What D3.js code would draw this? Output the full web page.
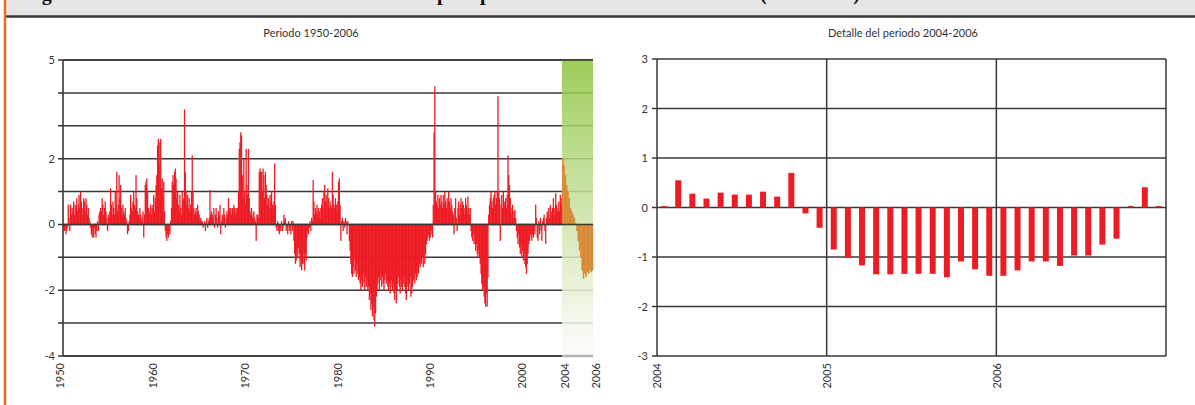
<!DOCTYPE html>
<html>
<head>
<meta charset="utf-8">
<script src="https://cdn.jsdelivr.net/npm/d3@7/dist/d3.min.js"></script>
<style>
  body { margin: 0; background: #fff; }
  svg text { font-family: Lato, "Open Sans", sans-serif; fill: #333; }
</style>
</head>
<body>
<svg id="chart" width="1195" height="405"></svg>
<script>
// monthly index, Jan 1950 .. Dec 2003 (one row per year)
var spi1950to2003 = [
  -0.1,-0.2,-0.1,-0.3,-0.2,-0.1,0.6,0.2,-0.2,0.6,0.3,0.5,      // 1950
  0.4,0.7,0.3,0.6,0.5,0.8,0.4,0.6,0.9,0.5,1.0,0.7,             // 1951
  0.5,0.3,0.8,0.7,0.4,0.8,0.6,0.3,0.5,0.2,0.1,-0.1,            // 1952
  -0.3,-0.4,-0.2,-0.4,-0.1,-0.3,-0.4,-0.2,0.1,-0.2,0.3,0.4,    // 1953
  0.5,0.4,0.8,0.6,0.3,0.5,0.7,0.4,0.2,-0.2,0.3,0.2,            // 1954
  0.4,1.1,0.6,0.3,0.7,0.5,0.3,1.0,0.5,1.6,0.4,0.6,             // 1955
  1.5,0.8,1.2,0.5,0.3,0.6,0.4,0.3,0.5,0.2,0.1,-0.3,            // 1956
  -0.2,0.1,0.3,0.9,0.5,0.4,0.7,1.0,0.6,0.5,1.5,0.8,            // 1957
  0.4,0.3,0.2,0.5,0.3,0.1,0.2,0.4,-0.4,0.3,1.2,1.3,            // 1958
  1.4,1.0,0.5,0.3,0.4,0.6,0.3,0.5,0.6,0.9,0.4,0.8,             // 1959
  1.2,1.5,2.4,2.6,2.5,1.8,2.6,1.1,1.4,0.9,1.3,0.4,             // 1960
  -0.2,-0.4,-0.5,-0.3,-0.4,-0.2,-0.3,0.1,0.5,1.3,1.5,1.2,      // 1961
  1.6,1.7,1.4,0.8,1.0,0.6,0.4,0.9,0.5,0.3,1.0,0.7,             // 1962
  0.8,3.5,1.6,1.0,0.6,0.9,0.5,0.8,0.4,0.6,1.0,2.1,             // 1963
  1.0,0.5,0.3,0.4,0.5,0.3,0.6,0.4,0.3,0.1,0.2,0.1,             // 1964
  0.1,-0.1,0.0,0.1,-0.2,0.1,0.2,-0.1,0.1,0.2,1.05,0.3,         // 1965
  0.4,0.3,0.2,0.5,-0.1,0.3,0.5,0.2,-0.1,0.4,0.3,0.6,           // 1966
  -0.3,0.1,0.3,0.2,0.5,0.3,-0.1,0.2,0.4,0.3,0.8,0.5,           // 1967
  0.4,0.5,0.3,0.5,0.4,0.6,0.5,0.3,0.5,0.4,0.5,1.0,             // 1968
  2.3,2.5,2.8,2.7,1.5,0.8,2.0,1.0,0.6,2.3,1.2,0.9,             // 1969
  2.3,0.8,0.4,0.3,0.5,0.2,0.3,0.4,0.2,0.1,-0.5,0.3,            // 1970
  0.3,0.2,1.6,1.7,1.6,1.6,1.0,1.7,1.5,0.8,1.6,1.2,             // 1971
  0.9,0.6,0.8,0.5,0.9,0.7,1.0,0.6,0.5,0.7,1.85,0.6,            // 1972
  -0.1,-0.2,0.1,-0.2,-0.3,-0.1,-0.2,0.1,-0.2,-0.1,0.3,0.1,     // 1973
  0.2,-0.2,-0.1,-0.3,0.1,-0.2,-0.1,-0.3,0.1,-0.2,0.1,-0.5,     // 1974
  -0.9,-1.2,-1.1,-0.8,-1.0,-0.7,-0.9,-1.3,-1.1,-1.4,-1.2,-0.9, // 1975
  -1.2,-1.4,-0.9,-1.1,-0.4,-0.2,-0.3,-0.1,0.1,-0.2,0.2,0.1,    // 1976
  1.35,0.7,0.3,0.5,0.4,0.6,0.3,0.5,0.4,0.2,0.5,0.6,            // 1977
  0.8,0.5,1.0,1.2,0.7,0.9,0.6,1.1,0.8,0.5,0.7,0.6,             // 1978
  0.5,1.6,0.9,0.6,0.5,0.8,0.6,0.4,0.7,1.3,1.4,0.6,             // 1979
  -0.5,0.1,0.2,-0.2,0.1,-0.1,0.2,0.1,-0.3,0.1,0.0,-0.5,        // 1980
  -0.8,-1.2,-1.5,-1.6,-1.3,-1.5,-1.1,-1.4,-1.6,-1.2,-1.5,-1.7, // 1981
  -1.6,-1.8,-2.0,-1.7,-1.9,-1.5,-1.8,-2.0,-1.6,-1.9,-1.7,-2.0, // 1982
  -1.9,-2.3,-2.1,-2.6,-2.4,-2.8,-2.5,-2.9,-3.1,-2.7,-2.2,-2.0, // 1983
  -1.8,-1.6,-2.0,-1.7,-1.5,-1.9,-1.6,-1.8,-2.0,-1.7,-1.5,-1.8, // 1984
  -1.7,-1.9,-2.0,-1.8,-2.1,-1.9,-1.7,-2.0,-1.8,-2.1,-2.3,-2.0, // 1985
  -2.4,-2.0,-1.8,-1.6,-1.9,-2.1,-1.7,-1.9,-2.0,-1.8,-1.6,-1.9, // 1986
  -2.1,-2.3,-1.9,-1.7,-2.0,-1.8,-1.6,-2.2,-2.1,-1.9,-1.7,-1.6, // 1987
  -1.8,-1.5,-1.7,-1.6,-1.4,-1.5,-1.2,-1.3,-1.1,-1.2,-1.0,-1.3, // 1988
  -1.0,-1.2,-0.9,-0.6,-0.5,-0.4,-0.3,-0.5,-0.4,-0.3,-0.2,-0.4, // 1989
  0.6,2.8,4.2,1.0,0.7,0.6,0.9,0.5,0.8,0.6,0.9,0.7,             // 1990
  0.5,0.9,0.6,1.0,0.7,0.5,0.8,0.6,1.0,0.7,0.5,0.8,             // 1991
  0.6,0.4,0.3,-0.3,0.5,0.8,0.2,-0.2,0.5,0.7,0.3,0.6,           // 1992
  0.8,0.5,0.7,0.6,0.3,0.5,0.8,0.6,0.4,0.85,0.5,0.3,            // 1993
  0.5,-0.2,-0.4,-0.5,-0.3,-0.6,-0.5,-0.8,-0.6,-0.9,-1.0,-0.8,  // 1994
  -1.0,-1.2,-1.5,-1.8,-2.0,-1.9,-2.2,-2.4,-2.5,-2.1,-2.5,-1.6, // 1995
  0.3,0.6,0.8,1.0,0.7,0.5,0.8,0.9,1.0,0.6,0.8,1.0,             // 1996
  3.9,1.0,0.8,-0.5,0.6,0.9,0.5,1.0,0.7,0.6,0.8,0.5,            // 1997
  0.9,2.1,1.5,1.2,0.8,0.5,0.3,0.6,0.2,0.4,0.45,0.2,            // 1998
  -0.2,-0.4,-0.6,-0.3,-0.7,-0.9,-0.6,-1.0,-0.8,-1.1,-0.9,-1.2, // 1999
  -1.3,-1.5,-1.2,-0.9,-0.6,-0.5,-0.3,-0.4,-0.5,-0.3,-0.4,-0.2, // 2000
  -0.3,0.6,0.2,-0.4,-0.5,0.1,-0.3,0.2,-0.2,-0.5,0.1,0.2,       // 2001
  0.3,-0.2,-0.6,0.2,0.4,0.3,0.5,0.2,0.6,0.3,0.4,0.5,           // 2002
  0.8,0.5,0.3,0.95,0.6,0.4,0.5,0.7,0.4,0.9,0.6,0.8             // 2003
];

// highlighted stretch 2004-2005 on the long chart
var spiBand2004to2005 = [2.0,1.8,1.5,1.2,1.0,0.8,0.5,0.4,0.3,0.2,0.05,-0.2,
                         -0.5,-0.8,-1.0,-1.4,-1.65,-1.5,-1.6,-1.45,-1.5,-1.4,-1.45,-1.4];

// detail chart, Jan 2004 .. Dec 2006
var detail2004to2006 = [0.03,0.55,0.28,0.18,0.30,0.26,0.26,0.32,0.22,0.70,-0.12,-0.41,
                        -0.85,-1.02,-1.17,-1.35,-1.35,-1.34,-1.34,-1.34,-1.41,-1.09,-1.25,-1.38,
                        -1.38,-1.27,-1.09,-1.09,-1.18,-0.97,-0.97,-0.75,-0.63,0.03,0.41,0.03];

var leftYTicks = [5, 2, 0, -2, -4];
var leftXTicks = [1950, 1960, 1970, 1980, 1990, 2000, 2004, 2006];
var rightYTicks = [3, 2, 1, 0, -1, -2, -3];
var rightXTicks = [2004, 2005, 2006];

var red = "#ed1c24", grid = "#383838";
var plain = function(d) { return String(d); };   // keep the ascii hyphen for negatives

var svg = d3.select("#chart");

// header strip (caption cut off at the top edge)
svg.append("rect").attr("x", 6).attr("y", 0).attr("width", 1189).attr("height", 16).attr("fill", "#e6e6e6");
svg.append("line").attr("x1", 6).attr("x2", 1195).attr("y1", 16.5).attr("y2", 16.5)
    .attr("stroke", "#3a3a3a").attr("stroke-width", 2.5);
var cap = svg.append("text").attr("y", 0)
    .style("font-family", "'Liberation Serif', serif").style("font-weight", "bold")
    .style("font-size", "20px").style("fill", "#111");
cap.append("tspan").attr("x", 24).text("Figura 6. Evolución del índice de");
cap.append("tspan").attr("x", 437).text("precipitación anual en la cuenca");
cap.append("tspan").attr("x", 760).text("(1950-2006)");
svg.append("line").attr("x1", 5).attr("x2", 5).attr("y1", 0).attr("y2", 405)
    .attr("stroke", "#f26a1b").attr("stroke-width", 2.5);

// ---------- left chart: 1950-2006 ----------
var xL = d3.scaleLinear().domain([1950, 2004, 2006]).range([63, 562, 593]);
var yL = d3.scaleLinear().domain([-4, 5]).range([356, 60]);

var defs = svg.append("defs");
var grad = defs.append("linearGradient").attr("id", "bandGrad")
    .attr("x1", 0).attr("y1", 0).attr("x2", 0).attr("y2", 1);
grad.append("stop").attr("offset", "0%").attr("stop-color", "#8cc43c");
grad.append("stop").attr("offset", "45%").attr("stop-color", "#c2de96");
grad.append("stop").attr("offset", "85%").attr("stop-color", "#eef5e4");
grad.append("stop").attr("offset", "100%").attr("stop-color", "#fbfcf8");

var gL = svg.append("g");

gL.selectAll(".grid").data(d3.range(-4, 6)).enter().append("line")
    .attr("x1", 58).attr("x2", xL(2006))
    .attr("y1", function(d) { return yL(d); }).attr("y2", function(d) { return yL(d); })
    .attr("stroke", grid).attr("stroke-width", 1.5);

gL.append("rect")
    .attr("x", xL(2004)).attr("y", yL(5))
    .attr("width", xL(2006) - xL(2004)).attr("height", yL(-4) - yL(5))
    .attr("fill", "url(#bandGrad)").attr("opacity", 0.85);

gL.selectAll(".bar").data(spi1950to2003).enter().append("rect")
    .attr("x", function(d, i) { return xL(1950 + i / 12); })
    .attr("width", 1.3)
    .attr("y", function(d) { return yL(Math.max(0, d)); })
    .attr("height", function(d) { return Math.abs(yL(d) - yL(0)); })
    .attr("fill", red);

gL.selectAll(".band").data(spiBand2004to2005).enter().append("rect")
    .attr("x", function(d, i) { return xL(2004 + i / 12); })
    .attr("width", xL(2004 + 1 / 12) - xL(2004) + 0.3)
    .attr("y", function(d) { return yL(Math.max(0, d)); })
    .attr("height", function(d) { return Math.abs(yL(d) - yL(0)); })
    .attr("fill", "#d9822b").attr("opacity", 0.92);

gL.append("line").attr("x1", 63).attr("x2", xL(2006)).attr("y1", yL(0)).attr("y2", yL(0))
    .attr("stroke", grid).attr("stroke-width", 1.5);
gL.append("line").attr("x1", 63).attr("x2", xL(2006)).attr("y1", yL(5)).attr("y2", yL(5))
    .attr("stroke", grid).attr("stroke-width", 1.5);
gL.append("line").attr("x1", 63).attr("x2", xL(2004)).attr("y1", yL(-4)).attr("y2", yL(-4))
    .attr("stroke", grid).attr("stroke-width", 1.6);
gL.append("line").attr("x1", xL(2004)).attr("x2", xL(2006)).attr("y1", yL(-4)).attr("y2", yL(-4))
    .attr("stroke", "#b4b4b4").attr("stroke-width", 2.5);
gL.append("line").attr("x1", 63).attr("x2", 63).attr("y1", yL(5)).attr("y2", yL(-4))
    .attr("stroke", grid).attr("stroke-width", 1.6);

var axL = gL.append("g").attr("transform", "translate(63,0)")
    .call(d3.axisLeft(yL).tickValues(leftYTicks).tickSize(0).tickPadding(8).tickFormat(plain));
axL.select(".domain").remove();
axL.selectAll("text").style("font-size", "11px");

var axLB = gL.append("g").attr("transform", "translate(0," + yL(-4) + ")")
    .call(d3.axisBottom(xL).tickValues(leftXTicks).tickSize(0).tickFormat(plain));
axLB.select(".domain").remove();
axLB.selectAll("text")
    .attr("transform", "rotate(-90)")
    .attr("x", -7).attr("y", function(d) { return d >= 2004 ? 3 : -3; })
    .attr("dy", "0.35em")
    .style("text-anchor", "end").style("font-size", "11px");

svg.append("text").attr("x", 311).attr("y", 37).attr("text-anchor", "middle")
    .style("font-size", "11px").text("Periodo 1950-2006");

// ---------- right chart: detail 2004-2006 ----------
var xR = d3.scaleLinear().domain([2004, 2007]).range([657, 1166]);
var yR = d3.scaleLinear().domain([-3, 3]).range([356, 59]);
var gR = svg.append("g");

gR.selectAll(".grid").data(d3.range(-3, 4)).enter().append("line")
    .attr("x1", 652).attr("x2", 1166)
    .attr("y1", function(d) { return yR(d); }).attr("y2", function(d) { return yR(d); })
    .attr("stroke", grid).attr("stroke-width", 1.5);
gR.selectAll(".vgrid").data([2004, 2005, 2006, 2007]).enter().append("line")
    .attr("x1", function(d) { return xR(d); }).attr("x2", function(d) { return xR(d); })
    .attr("y1", yR(3)).attr("y2", yR(-3))
    .attr("stroke", grid).attr("stroke-width", 1.5);

gR.selectAll(".bar").data(detail2004to2006).enter().append("rect")
    .attr("x", function(d, i) { return xR(2004 + (i + 0.5) / 12) - 3; })
    .attr("width", 6)
    .attr("y", function(d) { return yR(Math.max(0, d)); })
    .attr("height", function(d) { return Math.abs(yR(d) - yR(0)); })
    .attr("fill", red);

var axR = gR.append("g").attr("transform", "translate(657,0)")
    .call(d3.axisLeft(yR).tickValues(rightYTicks).tickSize(0).tickPadding(9).tickFormat(plain));
axR.select(".domain").remove();
axR.selectAll("text").style("font-size", "11px");

var axRB = gR.append("g").attr("transform", "translate(0," + yR(-3) + ")")
    .call(d3.axisBottom(xR).tickValues(rightXTicks).tickSize(0).tickFormat(plain));
axRB.select(".domain").remove();
axRB.selectAll("text")
    .attr("transform", "rotate(-90)")
    .attr("x", -7).attr("y", 0).attr("dy", "0.35em")
    .style("text-anchor", "end").style("font-size", "11px");

svg.append("text").attr("x", 903).attr("y", 37).attr("text-anchor", "middle")
    .style("font-size", "11px").text("Detalle del periodo 2004-2006");
</script>
</body>
</html>
